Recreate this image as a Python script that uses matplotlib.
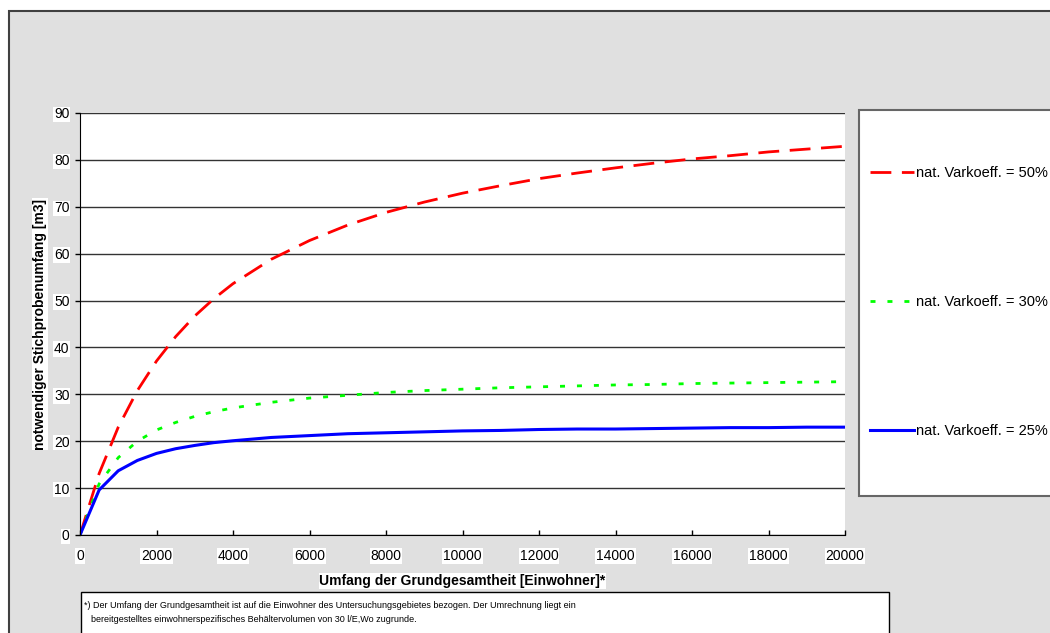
import numpy as np
import matplotlib
matplotlib.use("Agg")
import matplotlib.pyplot as plt
from matplotlib.patches import Rectangle

plt.rcParams['font.family'] = ['Liberation Sans', 'DejaVu Sans']

# Umfang der Grundgesamtheit (Einwohner)
einwohner = [0, 500, 1000, 1500, 2000, 2500, 3000, 3500, 4000, 5000, 6000, 7000,
             8000, 9000, 10000, 11000, 12000, 13000, 14000, 15000, 16000, 17000,
             18000, 19000, 20000]

# notwendiger Stichprobenumfang [m3]
vk50 = [0, 13.1, 23.0, 30.8, 37.1, 42.3, 46.7, 50.4, 53.6, 58.8, 62.8, 66.1,
        68.8, 71.0, 72.9, 74.5, 76.0, 77.2, 78.3, 79.3, 80.2, 80.9, 81.7, 82.3, 82.9]
vk30 = [0, 10.9, 16.5, 20.0, 22.4, 24.0, 25.3, 26.3, 27.1, 28.3, 29.2, 29.8,
        30.4, 30.8, 31.1, 31.4, 31.6, 31.8, 32.0, 32.1, 32.3, 32.4, 32.5, 32.6, 32.7]
vk25 = [0, 9.6, 13.7, 15.9, 17.4, 18.4, 19.1, 19.7, 20.1, 20.8, 21.2, 21.6,
        21.8, 22.0, 22.2, 22.3, 22.5, 22.6, 22.6, 22.7, 22.8, 22.9, 22.9, 23.0, 23.0]

labels = ['nat. Varkoeff. = 50%', 'nat. Varkoeff. = 30%', 'nat. Varkoeff. = 25%']

W, H = 1050, 633
fig = plt.figure(figsize=(W / 100, H / 100), dpi=100, facecolor='white')

# grey chart area with dark frame
fig.patches.append(Rectangle((8.5 / W, -0.05), 1.1, (H - 11) / H + 0.05,
                             transform=fig.transFigure, facecolor='#e0e0e0',
                             edgecolor='#404040', linewidth=1.5, zorder=-10))

ax = fig.add_axes([80 / W, (H - 535) / H, (845 - 80) / W, (535 - 113) / H])
ax.set_facecolor('white')

l50, = ax.plot(einwohner, vk50, color='#ff0000', lw=2.0, dashes=(7.5, 3.8),
               dash_capstyle='butt')
l30, = ax.plot(einwohner, vk30, color='#00ff00', lw=2.0, dashes=(1.8, 4.3),
               dash_capstyle='butt')
l25, = ax.plot(einwohner, vk25, color='#0000ff', lw=2.2)

ax.set_xlim(0, 20000)
ax.set_ylim(0, 90)
ax.set_xticks(np.arange(0, 20001, 2000))
ax.set_yticks(np.arange(0, 91, 10))
ax.yaxis.grid(True, color='#333333', lw=1.0)
ax.set_axisbelow(True)
for s in ['right', 'top']:
    ax.spines[s].set_visible(False)
ax.spines['left'].set_color('black')
ax.spines['bottom'].set_color('black')

ax.tick_params(axis='x', direction='in', length=3.6, width=1, pad=10, labelsize=10)
ax.tick_params(axis='y', direction='out', length=3.6, width=1, pad=4, labelsize=10)
for t in ax.get_xticklabels() + ax.get_yticklabels():
    t.set_bbox(dict(facecolor='white', edgecolor='none', pad=0.5))

ax.set_xlabel('Umfang der Grundgesamtheit [Einwohner]*', fontsize=10,
              fontweight='bold', labelpad=8,
              bbox=dict(facecolor='white', edgecolor='none', pad=0.5))
ax.set_ylabel('notwendiger Stichprobenumfang [m3]', fontsize=10,
              fontweight='bold', labelpad=5,
              bbox=dict(facecolor='white', edgecolor='none', pad=0.5))

# legend box
fig.patches.append(Rectangle((858.5 / W, (H - 496) / H), 0.2, (496 - 110) / H,
                             transform=fig.transFigure, facecolor='white',
                             edgecolor='#666666', linewidth=1.5, zorder=1))
fig.legend([l50, l30, l25], labels, loc='upper left',
           bbox_to_anchor=(870 / W, (H - 166) / H), frameon=False,
           fontsize=10.5, handlelength=3.05, handletextpad=0.12,
           labelspacing=7.9, borderaxespad=0, borderpad=0)

# footnote box
fig.patches.append(Rectangle((80.5 / W, -0.05), (888 - 80) / W, (H - 592) / H + 0.05,
                             transform=fig.transFigure, facecolor='white',
                             edgecolor='black', linewidth=1.0, zorder=1))
fig.text(84 / W, (H - 605) / H,
         '*) Der Umfang der Grundgesamtheit ist auf die Einwohner des '
         'Untersuchungsgebietes bezogen. Der Umrechnung liegt ein',
         fontsize=6.5, va='center', ha='left')
fig.text(91 / W, (H - 620) / H,
         'bereitgestelltes einwohnerspezifisches Behältervolumen von 30 l/E,Wo zugrunde.',
         fontsize=6.5, va='center', ha='left')

fig.savefig('out.png', dpi=100, facecolor=fig.get_facecolor())
